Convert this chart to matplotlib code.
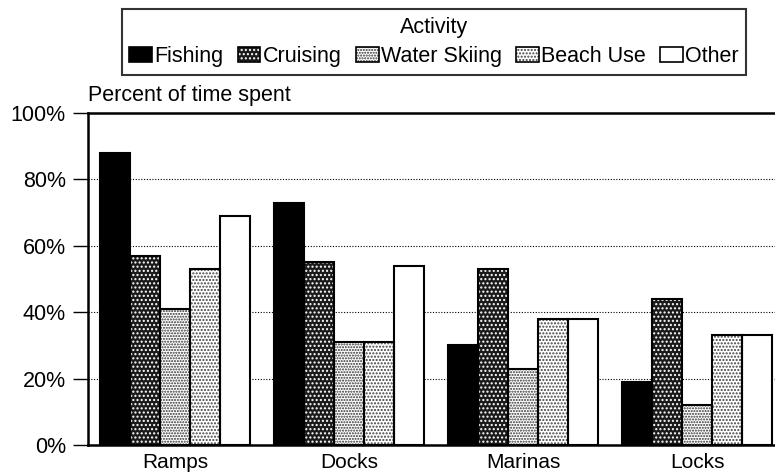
import matplotlib
matplotlib.use("Agg")
import matplotlib.pyplot as plt
from matplotlib.patches import Patch
from matplotlib.legend_handler import HandlerTuple
import numpy as np

categories = ["Ramps", "Docks", "Marinas", "Locks"]
activities = ["Fishing", "Cruising", "Water Skiing", "Beach Use", "Other"]
fishing = [88, 73, 30, 19]
cruising = [57, 55, 53, 44]
water_skiing = [41, 31, 23, 12]
beach_use = [53, 31, 38, 33]
other = [69, 54, 38, 33]
yticks = [0, 20, 40, 60, 80, 100]
ytick_labels = ["0%", "20%", "40%", "60%", "80%", "100%"]

series = [fishing, cruising, water_skiing, beach_use, other]
# (face colour, hatch, hatch colour)
styles = [
    ("black", None, "black"),
    ("#1a1a1a", "....", "white"),
    ("white", "......", "#303030"),
    ("white", ".....", "#404040"),
    ("white", None, "black"),
]

plt.rcParams["font.family"] = ["Liberation Sans", "DejaVu Sans"]
plt.rcParams["hatch.linewidth"] = 1.0

W, H = 775, 476
fig = plt.figure(figsize=(W / 100, H / 100), dpi=100)
ax = fig.add_axes([88 / W, (H - 445) / H, 696 / W, 332 / H])

FS = 15.5
n = len(categories)
x = np.arange(n)
w = 0.172
handles = []
for i, (vals, (fc, hatch, hc)) in enumerate(zip(series, styles)):
    ax.bar(x + (i - 2) * w, vals, width=w, facecolor=fc, hatch=hatch,
           edgecolor=hc, linewidth=0, zorder=3)
    ax.bar(x + (i - 2) * w, vals, width=w, fill=False,
           edgecolor="black", linewidth=1.5, zorder=4)
    h1 = Patch(facecolor=fc, hatch=hatch, edgecolor=hc, linewidth=0)
    h2 = Patch(fill=False, edgecolor="black", linewidth=1.2)
    handles.append((h1, h2))

ax.set_xlim(-0.5, n - 0.5)
ax.set_ylim(0, 100)
ax.set_yticks(yticks)
ax.set_yticklabels(ytick_labels, fontsize=15.5)
ax.set_xticks(x)
ax.set_xticklabels(categories, fontsize=15)
ax.tick_params(axis="x", length=0, pad=6)
ax.tick_params(axis="y", length=11, width=1, direction="out", pad=5)
ax.yaxis.grid(True, linestyle=(0, (1, 1.5)), color="black", linewidth=0.8, zorder=0)
ax.set_axisbelow(True)
for s in ["left", "bottom", "top"]:
    ax.spines[s].set_linewidth(1.8)
ax.spines["right"].set_visible(False)

fig.text(88 / W, 1 - 95 / H, "Percent of time spent", fontsize=15.5,
         ha="left", va="center")

leg = fig.legend(handles=handles, labels=activities, title="Activity",
                 handler_map={tuple: HandlerTuple(ndivide=1, pad=0)},
                 ncol=5, loc="upper center", bbox_to_anchor=(434 / W, 1 - 9 / H),
                 fontsize=FS, title_fontsize=FS, frameon=True, fancybox=False,
                 edgecolor="black", handlelength=1.05, handleheight=0.7,
                 handletextpad=0.1, columnspacing=0.68, borderpad=0.35,
                 labelspacing=0.4, borderaxespad=0)
leg.get_frame().set_linewidth(1.5)

fig.savefig("out.png", dpi=100)
